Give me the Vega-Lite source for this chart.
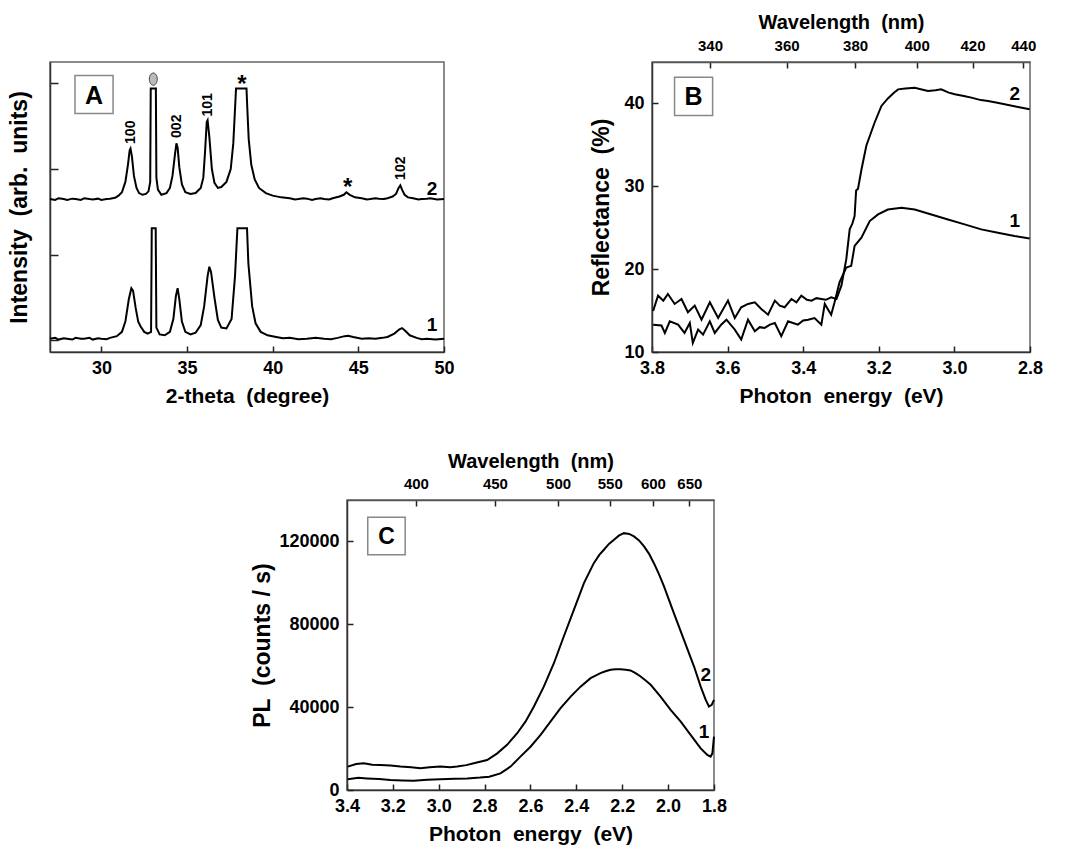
{
  "$schema": "https://vega.github.io/schema/vega-lite/v6.json",
  "padding": {"left": 7, "top": 11, "right": 0, "bottom": 0},
  "config": {
    "font": "Liberation Sans",
    "view": {"stroke": "#666", "strokeWidth": 1.5},
    "axis": {"labelFont": "Liberation Sans", "titleFont": "Liberation Sans", "labelFontWeight": "bold", "titleFontWeight": "bold", "labelColor": "black", "titleColor": "black", "domain": true, "domainColor": "#333", "domainWidth": 1.5, "grid": false, "tickColor": "#222", "tickWidth": 1.5, "labelFontSize": 18, "titleFontSize": 21, "tickSize": -6, "labelFlush": false, "labelOverlap": false},
    "axisBottom": {"labelPadding": 13, "titlePadding": 8},
    "axisTop": {"labelPadding": 15, "titlePadding": 6, "domainColor": "#555"},
    "axisLeft": {"labelPadding": 14, "titlePadding": 10}
  },
  "datasets": {
    "xrd": [
      {"x":27.0,"y":1.65,"s":"2"},{"x":27.3,"y":1.64,"s":"2"},{"x":27.5,"y":1.66,"s":"2"},{"x":27.8,"y":1.65,"s":"2"},{"x":28.0,"y":1.64,"s":"2"},{"x":28.3,"y":1.655,"s":"2"},{"x":28.5,"y":1.65,"s":"2"},{"x":28.8,"y":1.64,"s":"2"},{"x":29.0,"y":1.66,"s":"2"},{"x":29.3,"y":1.65,"s":"2"},{"x":29.5,"y":1.645,"s":"2"},{"x":29.8,"y":1.655,"s":"2"},{"x":30.0,"y":1.64,"s":"2"},{"x":30.3,"y":1.65,"s":"2"},{"x":30.5,"y":1.655,"s":"2"},{"x":30.8,"y":1.665,"s":"2"},{"x":31.0,"y":1.69,"s":"2"},{"x":31.2,"y":1.73,"s":"2"},{"x":31.4,"y":1.85,"s":"2"},{"x":31.55,"y":2.05,"s":"2"},{"x":31.65,"y":2.22,"s":"2"},{"x":31.7,"y":2.24,"s":"2"},{"x":31.78,"y":2.15,"s":"2"},{"x":31.9,"y":1.92,"s":"2"},{"x":32.05,"y":1.78,"s":"2"},{"x":32.2,"y":1.72,"s":"2"},{"x":32.4,"y":1.70,"s":"2"},{"x":32.6,"y":1.71,"s":"2"},{"x":32.75,"y":1.74,"s":"2"},{"x":32.85,"y":1.85,"s":"2"},{"x":32.88,"y":2.94,"s":"2"},{"x":33.18,"y":2.94,"s":"2"},{"x":33.21,"y":1.9,"s":"2"},{"x":33.3,"y":1.76,"s":"2"},{"x":33.5,"y":1.70,"s":"2"},{"x":33.8,"y":1.72,"s":"2"},{"x":34.0,"y":1.78,"s":"2"},{"x":34.15,"y":1.92,"s":"2"},{"x":34.3,"y":2.18,"s":"2"},{"x":34.38,"y":2.30,"s":"2"},{"x":34.45,"y":2.25,"s":"2"},{"x":34.55,"y":2.02,"s":"2"},{"x":34.7,"y":1.82,"s":"2"},{"x":34.9,"y":1.73,"s":"2"},{"x":35.2,"y":1.71,"s":"2"},{"x":35.5,"y":1.72,"s":"2"},{"x":35.8,"y":1.78,"s":"2"},{"x":35.95,"y":1.90,"s":"2"},{"x":36.05,"y":2.2,"s":"2"},{"x":36.15,"y":2.55,"s":"2"},{"x":36.2,"y":2.57,"s":"2"},{"x":36.3,"y":2.38,"s":"2"},{"x":36.45,"y":2.0,"s":"2"},{"x":36.6,"y":1.84,"s":"2"},{"x":36.8,"y":1.78,"s":"2"},{"x":37.0,"y":1.79,"s":"2"},{"x":37.3,"y":1.85,"s":"2"},{"x":37.55,"y":2.0,"s":"2"},{"x":37.7,"y":2.3,"s":"2"},{"x":37.8,"y":2.7,"s":"2"},{"x":37.86,"y":2.94,"s":"2"},{"x":38.47,"y":2.94,"s":"2"},{"x":38.52,"y":2.7,"s":"2"},{"x":38.6,"y":2.35,"s":"2"},{"x":38.75,"y":2.05,"s":"2"},{"x":38.95,"y":1.88,"s":"2"},{"x":39.2,"y":1.78,"s":"2"},{"x":39.6,"y":1.72,"s":"2"},{"x":40.0,"y":1.69,"s":"2"},{"x":40.5,"y":1.67,"s":"2"},{"x":41.0,"y":1.66,"s":"2"},{"x":41.3,"y":1.645,"s":"2"},{"x":41.5,"y":1.65,"s":"2"},{"x":41.8,"y":1.66,"s":"2"},{"x":42.0,"y":1.655,"s":"2"},{"x":42.3,"y":1.64,"s":"2"},{"x":42.5,"y":1.65,"s":"2"},{"x":42.8,"y":1.66,"s":"2"},{"x":43.0,"y":1.65,"s":"2"},{"x":43.3,"y":1.645,"s":"2"},{"x":43.5,"y":1.66,"s":"2"},{"x":43.9,"y":1.68,"s":"2"},{"x":44.15,"y":1.70,"s":"2"},{"x":44.3,"y":1.73,"s":"2"},{"x":44.5,"y":1.70,"s":"2"},{"x":44.8,"y":1.67,"s":"2"},{"x":45.2,"y":1.66,"s":"2"},{"x":45.5,"y":1.645,"s":"2"},{"x":45.7,"y":1.65,"s":"2"},{"x":46.0,"y":1.66,"s":"2"},{"x":46.2,"y":1.655,"s":"2"},{"x":46.5,"y":1.65,"s":"2"},{"x":46.7,"y":1.66,"s":"2"},{"x":47.0,"y":1.68,"s":"2"},{"x":47.2,"y":1.71,"s":"2"},{"x":47.35,"y":1.78,"s":"2"},{"x":47.45,"y":1.81,"s":"2"},{"x":47.55,"y":1.76,"s":"2"},{"x":47.7,"y":1.70,"s":"2"},{"x":47.9,"y":1.67,"s":"2"},{"x":48.2,"y":1.66,"s":"2"},{"x":48.5,"y":1.645,"s":"2"},{"x":48.7,"y":1.65,"s":"2"},{"x":49.0,"y":1.655,"s":"2"},{"x":49.2,"y":1.66,"s":"2"},{"x":49.6,"y":1.645,"s":"2"},{"x":50.0,"y":1.65,"s":"2"},
      {"x":27.0,"y":0.02,"s":"1"},{"x":27.3,"y":0.03,"s":"1"},{"x":27.5,"y":0.01,"s":"1"},{"x":27.8,"y":0.025,"s":"1"},{"x":28.0,"y":0.02,"s":"1"},{"x":28.3,"y":0.01,"s":"1"},{"x":28.5,"y":0.03,"s":"1"},{"x":28.8,"y":0.02,"s":"1"},{"x":29.0,"y":0.02,"s":"1"},{"x":29.3,"y":0.03,"s":"1"},{"x":29.5,"y":0.01,"s":"1"},{"x":29.8,"y":0.025,"s":"1"},{"x":30.0,"y":0.02,"s":"1"},{"x":30.3,"y":0.015,"s":"1"},{"x":30.5,"y":0.03,"s":"1"},{"x":30.9,"y":0.05,"s":"1"},{"x":31.2,"y":0.1,"s":"1"},{"x":31.4,"y":0.22,"s":"1"},{"x":31.6,"y":0.48,"s":"1"},{"x":31.75,"y":0.61,"s":"1"},{"x":31.85,"y":0.58,"s":"1"},{"x":32.0,"y":0.38,"s":"1"},{"x":32.15,"y":0.22,"s":"1"},{"x":32.3,"y":0.16,"s":"1"},{"x":32.5,"y":0.1,"s":"1"},{"x":32.7,"y":0.08,"s":"1"},{"x":32.9,"y":0.1,"s":"1"},{"x":32.94,"y":1.31,"s":"1"},{"x":33.17,"y":1.31,"s":"1"},{"x":33.21,"y":0.15,"s":"1"},{"x":33.4,"y":0.07,"s":"1"},{"x":33.7,"y":0.06,"s":"1"},{"x":34.0,"y":0.1,"s":"1"},{"x":34.2,"y":0.25,"s":"1"},{"x":34.35,"y":0.52,"s":"1"},{"x":34.45,"y":0.61,"s":"1"},{"x":34.55,"y":0.48,"s":"1"},{"x":34.7,"y":0.22,"s":"1"},{"x":34.9,"y":0.1,"s":"1"},{"x":35.2,"y":0.07,"s":"1"},{"x":35.5,"y":0.09,"s":"1"},{"x":35.8,"y":0.18,"s":"1"},{"x":36.0,"y":0.4,"s":"1"},{"x":36.2,"y":0.75,"s":"1"},{"x":36.3,"y":0.86,"s":"1"},{"x":36.4,"y":0.8,"s":"1"},{"x":36.6,"y":0.5,"s":"1"},{"x":36.8,"y":0.24,"s":"1"},{"x":37.0,"y":0.15,"s":"1"},{"x":37.3,"y":0.14,"s":"1"},{"x":37.6,"y":0.25,"s":"1"},{"x":37.8,"y":0.75,"s":"1"},{"x":37.94,"y":1.31,"s":"1"},{"x":38.5,"y":1.31,"s":"1"},{"x":38.58,"y":0.9,"s":"1"},{"x":38.8,"y":0.4,"s":"1"},{"x":39.0,"y":0.2,"s":"1"},{"x":39.3,"y":0.1,"s":"1"},{"x":39.7,"y":0.06,"s":"1"},{"x":40.2,"y":0.04,"s":"1"},{"x":40.6,"y":0.025,"s":"1"},{"x":41.0,"y":0.03,"s":"1"},{"x":41.5,"y":0.015,"s":"1"},{"x":42.0,"y":0.02,"s":"1"},{"x":42.5,"y":0.03,"s":"1"},{"x":43.0,"y":0.02,"s":"1"},{"x":43.4,"y":0.015,"s":"1"},{"x":43.8,"y":0.03,"s":"1"},{"x":44.2,"y":0.05,"s":"1"},{"x":44.4,"y":0.055,"s":"1"},{"x":44.7,"y":0.04,"s":"1"},{"x":45.2,"y":0.02,"s":"1"},{"x":45.6,"y":0.025,"s":"1"},{"x":46.0,"y":0.02,"s":"1"},{"x":46.4,"y":0.03,"s":"1"},{"x":46.7,"y":0.04,"s":"1"},{"x":47.1,"y":0.08,"s":"1"},{"x":47.4,"y":0.13,"s":"1"},{"x":47.55,"y":0.144,"s":"1"},{"x":47.75,"y":0.11,"s":"1"},{"x":48.0,"y":0.06,"s":"1"},{"x":48.4,"y":0.03,"s":"1"},{"x":48.7,"y":0.015,"s":"1"},{"x":49.0,"y":0.02,"s":"1"},{"x":49.5,"y":0.01,"s":"1"},{"x":50.0,"y":0.02,"s":"1"}
    ],
    "xrdPeaks": [
      {"x":31.75,"y":2.43,"t":"100"},{"x":34.4,"y":2.5,"t":"002"},{"x":36.2,"y":2.75,"t":"101"},{"x":47.5,"y":2.01,"t":"102"}
    ],
    "xrdStars": [
      {"x":38.2,"y":2.98,"t":"*"},{"x":44.37,"y":1.78,"t":"*"}
    ],
    "xrdCurves": [
      {"x":49.3,"y":1.77,"t":"2"},{"x":49.3,"y":0.18,"t":"1"}
    ],
    "refl": [
      {"E":3.797,"R":14.95,"s":"2"},{"E":3.784,"R":16.8,"s":"2"},{"E":3.770,"R":16.2,"s":"2"},{"E":3.758,"R":17.0,"s":"2"},{"E":3.740,"R":15.8,"s":"2"},{"E":3.722,"R":16.4,"s":"2"},{"E":3.705,"R":14.8,"s":"2"},{"E":3.687,"R":15.6,"s":"2"},{"E":3.669,"R":13.9,"s":"2"},{"E":3.647,"R":16.0,"s":"2"},{"E":3.625,"R":14.1,"s":"2"},{"E":3.599,"R":16.2,"s":"2"},{"E":3.581,"R":14.1,"s":"2"},{"E":3.564,"R":15.4,"s":"2"},{"E":3.546,"R":15.8,"s":"2"},{"E":3.528,"R":16.0,"s":"2"},{"E":3.511,"R":15.2,"s":"2"},{"E":3.493,"R":14.5,"s":"2"},{"E":3.475,"R":16.2,"s":"2"},{"E":3.462,"R":15.6,"s":"2"},{"E":3.449,"R":15.4,"s":"2"},{"E":3.431,"R":16.4,"s":"2"},{"E":3.418,"R":16.0,"s":"2"},{"E":3.405,"R":16.8,"s":"2"},{"E":3.390,"R":16.3,"s":"2"},{"E":3.378,"R":16.2,"s":"2"},{"E":3.365,"R":16.5,"s":"2"},{"E":3.352,"R":16.4,"s":"2"},{"E":3.340,"R":16.3,"s":"2"},{"E":3.326,"R":16.6,"s":"2"},{"E":3.312,"R":16.4,"s":"2"},{"E":3.299,"R":18.0,"s":"2"},{"E":3.286,"R":21.2,"s":"2"},{"E":3.277,"R":24.8,"s":"2"},{"E":3.270,"R":25.5,"s":"2"},{"E":3.264,"R":26.4,"s":"2"},{"E":3.260,"R":29.5,"s":"2"},{"E":3.255,"R":29.7,"s":"2"},{"E":3.246,"R":32.0,"s":"2"},{"E":3.233,"R":34.9,"s":"2"},{"E":3.211,"R":37.7,"s":"2"},{"E":3.193,"R":39.7,"s":"2"},{"E":3.176,"R":40.6,"s":"2"},{"E":3.160,"R":41.3,"s":"2"},{"E":3.149,"R":41.7,"s":"2"},{"E":3.130,"R":41.8,"s":"2"},{"E":3.105,"R":41.9,"s":"2"},{"E":3.070,"R":41.5,"s":"2"},{"E":3.050,"R":41.6,"s":"2"},{"E":3.035,"R":41.7,"s":"2"},{"E":3.015,"R":41.3,"s":"2"},{"E":2.999,"R":41.1,"s":"2"},{"E":2.975,"R":40.9,"s":"2"},{"E":2.955,"R":40.7,"s":"2"},{"E":2.930,"R":40.4,"s":"2"},{"E":2.911,"R":40.3,"s":"2"},{"E":2.890,"R":40.1,"s":"2"},{"E":2.867,"R":39.9,"s":"2"},{"E":2.835,"R":39.6,"s":"2"},{"E":2.801,"R":39.3,"s":"2"},
      {"E":3.797,"R":13.3,"s":"1"},{"E":3.775,"R":13.2,"s":"1"},{"E":3.766,"R":12.3,"s":"1"},{"E":3.753,"R":13.7,"s":"1"},{"E":3.731,"R":13.3,"s":"1"},{"E":3.714,"R":12.3,"s":"1"},{"E":3.700,"R":13.5,"s":"1"},{"E":3.692,"R":11.1,"s":"1"},{"E":3.678,"R":12.7,"s":"1"},{"E":3.665,"R":12.1,"s":"1"},{"E":3.647,"R":13.7,"s":"1"},{"E":3.634,"R":12.3,"s":"1"},{"E":3.617,"R":13.3,"s":"1"},{"E":3.603,"R":13.9,"s":"1"},{"E":3.581,"R":12.7,"s":"1"},{"E":3.564,"R":11.5,"s":"1"},{"E":3.546,"R":13.9,"s":"1"},{"E":3.528,"R":12.5,"s":"1"},{"E":3.515,"R":13.0,"s":"1"},{"E":3.502,"R":12.9,"s":"1"},{"E":3.488,"R":13.3,"s":"1"},{"E":3.475,"R":13.5,"s":"1"},{"E":3.458,"R":11.9,"s":"1"},{"E":3.440,"R":13.7,"s":"1"},{"E":3.427,"R":13.5,"s":"1"},{"E":3.414,"R":13.3,"s":"1"},{"E":3.400,"R":13.8,"s":"1"},{"E":3.387,"R":13.9,"s":"1"},{"E":3.370,"R":14.1,"s":"1"},{"E":3.352,"R":13.3,"s":"1"},{"E":3.343,"R":15.8,"s":"1"},{"E":3.326,"R":14.5,"s":"1"},{"E":3.317,"R":16.0,"s":"1"},{"E":3.304,"R":18.4,"s":"1"},{"E":3.286,"R":20.2,"s":"1"},{"E":3.273,"R":20.4,"s":"1"},{"E":3.264,"R":22.8,"s":"1"},{"E":3.246,"R":23.8,"s":"1"},{"E":3.224,"R":25.8,"s":"1"},{"E":3.202,"R":26.6,"s":"1"},{"E":3.176,"R":27.2,"s":"1"},{"E":3.140,"R":27.4,"s":"1"},{"E":3.105,"R":27.2,"s":"1"},{"E":3.061,"R":26.6,"s":"1"},{"E":3.017,"R":26.0,"s":"1"},{"E":2.973,"R":25.4,"s":"1"},{"E":2.929,"R":24.8,"s":"1"},{"E":2.885,"R":24.4,"s":"1"},{"E":2.841,"R":24.0,"s":"1"},{"E":2.801,"R":23.7,"s":"1"}
    ],
    "reflLabels": [{"E":2.84,"R":41.1,"t":"2"},{"E":2.84,"R":25.8,"t":"1"}],
    "pl": [
      {"E":3.397,"P":11300,"s":"2"},{"E":3.360,"P":12500,"s":"2"},{"E":3.327,"P":12900,"s":"2"},{"E":3.290,"P":12200,"s":"2"},{"E":3.255,"P":12100,"s":"2"},{"E":3.210,"P":11800,"s":"2"},{"E":3.167,"P":11300,"s":"2"},{"E":3.120,"P":11000,"s":"2"},{"E":3.080,"P":10500,"s":"2"},{"E":3.040,"P":11000,"s":"2"},{"E":2.993,"P":11300,"s":"2"},{"E":2.950,"P":11000,"s":"2"},{"E":2.920,"P":11300,"s":"2"},{"E":2.880,"P":12000,"s":"2"},{"E":2.847,"P":12900,"s":"2"},{"E":2.789,"P":14500,"s":"2"},{"E":2.745,"P":17700,"s":"2"},{"E":2.702,"P":21800,"s":"2"},{"E":2.658,"P":27400,"s":"2"},{"E":2.622,"P":33000,"s":"2"},{"E":2.585,"P":40300,"s":"2"},{"E":2.542,"P":49900,"s":"2"},{"E":2.498,"P":61200,"s":"2"},{"E":2.455,"P":74100,"s":"2"},{"E":2.411,"P":87000,"s":"2"},{"E":2.367,"P":99900,"s":"2"},{"E":2.324,"P":109500,"s":"2"},{"E":2.300,"P":113500,"s":"2"},{"E":2.280,"P":116000,"s":"2"},{"E":2.258,"P":118800,"s":"2"},{"E":2.236,"P":120800,"s":"2"},{"E":2.215,"P":122800,"s":"2"},{"E":2.193,"P":124000,"s":"2"},{"E":2.170,"P":123600,"s":"2"},{"E":2.149,"P":122400,"s":"2"},{"E":2.127,"P":120500,"s":"2"},{"E":2.105,"P":117600,"s":"2"},{"E":2.083,"P":114000,"s":"2"},{"E":2.062,"P":109500,"s":"2"},{"E":2.040,"P":104200,"s":"2"},{"E":2.018,"P":98300,"s":"2"},{"E":1.975,"P":85400,"s":"2"},{"E":1.931,"P":72500,"s":"2"},{"E":1.887,"P":59600,"s":"2"},{"E":1.858,"P":49900,"s":"2"},{"E":1.836,"P":43500,"s":"2"},{"E":1.822,"P":40300,"s":"2"},{"E":1.810,"P":41100,"s":"2"},{"E":1.800,"P":43500,"s":"2"},
      {"E":3.397,"P":5200,"s":"1"},{"E":3.350,"P":5900,"s":"1"},{"E":3.313,"P":5600,"s":"1"},{"E":3.260,"P":5300,"s":"1"},{"E":3.211,"P":4800,"s":"1"},{"E":3.160,"P":4600,"s":"1"},{"E":3.109,"P":4500,"s":"1"},{"E":3.050,"P":4900,"s":"1"},{"E":2.993,"P":5200,"s":"1"},{"E":2.930,"P":5400,"s":"1"},{"E":2.876,"P":5600,"s":"1"},{"E":2.820,"P":6000,"s":"1"},{"E":2.780,"P":6400,"s":"1"},{"E":2.731,"P":8000,"s":"1"},{"E":2.687,"P":11300,"s":"1"},{"E":2.644,"P":16100,"s":"1"},{"E":2.600,"P":20900,"s":"1"},{"E":2.556,"P":26600,"s":"1"},{"E":2.513,"P":33000,"s":"1"},{"E":2.469,"P":39500,"s":"1"},{"E":2.425,"P":45100,"s":"1"},{"E":2.382,"P":49900,"s":"1"},{"E":2.338,"P":54000,"s":"1"},{"E":2.295,"P":56400,"s":"1"},{"E":2.273,"P":57300,"s":"1"},{"E":2.251,"P":58000,"s":"1"},{"E":2.229,"P":58300,"s":"1"},{"E":2.207,"P":58300,"s":"1"},{"E":2.185,"P":58100,"s":"1"},{"E":2.164,"P":57700,"s":"1"},{"E":2.142,"P":56400,"s":"1"},{"E":2.120,"P":54800,"s":"1"},{"E":2.098,"P":52900,"s":"1"},{"E":2.076,"P":50800,"s":"1"},{"E":2.033,"P":45100,"s":"1"},{"E":1.989,"P":38700,"s":"1"},{"E":1.945,"P":33000,"s":"1"},{"E":1.902,"P":26600,"s":"1"},{"E":1.858,"P":20100,"s":"1"},{"E":1.829,"P":16900,"s":"1"},{"E":1.815,"P":16100,"s":"1"},{"E":1.807,"P":17700,"s":"1"},{"E":1.800,"P":25800,"s":"1"}
    ],
    "plLabels": [{"E":1.836,"P":55600,"t":"2"},{"E":1.844,"P":28200,"t":"1"}]
  },
  "vconcat": [
    {
      "hconcat": [
        {
          "width": 394, "height": 290,
          "layer": [
            {
              "data": {"name": "xrd"},
              "mark": {"type": "line", "color": "black", "strokeWidth": 2},
              "encoding": {
                "x": {"field": "x", "type": "quantitative", "scale": {"domain": [27, 50], "nice": false, "zero": false}, "axis": {"values": [30, 35, 40, 45, 50], "title": "2-theta \u00a0(degree)"}},
                "y": {"field": "y", "type": "quantitative", "scale": {"domain": [-0.135, 3.25], "nice": false, "zero": false}, "axis": {"values": [0, 1, 2, 3], "labels": false, "title": "Intensity \u00a0(arb. \u00a0units)", "titleFontSize": 23, "tickSize": -8, "titlePadding": 18}},
                "detail": {"field": "s", "type": "nominal"}
              }
            },
            {
              "data": {"name": "xrdPeaks"},
              "mark": {"type": "text", "angle": 270, "fontSize": 14, "fontWeight": "bold", "align": "center", "baseline": "middle"},
              "encoding": {"x": {"field": "x", "type": "quantitative"}, "y": {"field": "y", "type": "quantitative"}, "text": {"field": "t"}}
            },
            {
              "data": {"name": "xrdStars"},
              "mark": {"type": "text", "fontSize": 24, "fontWeight": "bold", "align": "center", "baseline": "middle"},
              "encoding": {"x": {"field": "x", "type": "quantitative"}, "y": {"field": "y", "type": "quantitative"}, "text": {"field": "t"}}
            },
            {
              "data": {"name": "xrdCurves"},
              "mark": {"type": "text", "fontSize": 19, "fontWeight": "bold", "align": "center", "baseline": "middle"},
              "encoding": {"x": {"field": "x", "type": "quantitative"}, "y": {"field": "y", "type": "quantitative"}, "text": {"field": "t"}}
            },
            {
              "data": {"values": [{"x": 29.57, "y": 2.87}]},
              "mark": {"type": "point", "shape": "square", "size": 1450, "filled": false, "stroke": "#888", "strokeWidth": 1.5, "opacity": 1},
              "encoding": {"x": {"field": "x", "type": "quantitative"}, "y": {"field": "y", "type": "quantitative"}}
            },
            {
              "data": {"values": [{"x": 29.57, "y": 2.87, "t": "A"}]},
              "mark": {"type": "text", "fontSize": 25, "fontWeight": "bold", "align": "center", "baseline": "middle", "dy": 1},
              "encoding": {"x": {"field": "x", "type": "quantitative"}, "y": {"field": "y", "type": "quantitative"}, "text": {"field": "t"}}
            },
            {
              "data": {"values": [{"x": 33.03, "y": 3.05}]},
              "mark": {"type": "point", "shape": "M0,-1 A0.65,1 0 1,1 0,1 A0.65,1 0 1,1 0,-1 Z", "size": 150, "filled": true, "fill": "#bbb", "stroke": "#444", "strokeWidth": 1, "opacity": 1},
              "encoding": {"x": {"field": "x", "type": "quantitative"}, "y": {"field": "y", "type": "quantitative"}}
            }
          ]
        },
        {
          "width": 378, "height": 290,
          "layer": [
            {
              "data": {"name": "refl"},
              "mark": {"type": "line", "color": "black", "strokeWidth": 2},
              "encoding": {
                "x": {"field": "E", "type": "quantitative", "scale": {"domain": [2.8, 3.8], "reverse": true, "nice": false, "zero": false}, "axis": {"values": [3.8, 3.6, 3.4, 3.2, 3.0, 2.8], "format": ".1f", "title": "Photon \u00a0energy \u00a0(eV)"}},
                "y": {"field": "R", "type": "quantitative", "scale": {"domain": [10, 45], "nice": false, "zero": false}, "axis": {"values": [10, 20, 30, 40], "title": "Reflectance \u00a0(%)", "titleFontSize": 23}},
                "detail": {"field": "s", "type": "nominal"}
              }
            },
            {
              "data": {"values": [{"E": 3.6466}, {"E": 3.444}, {"E": 3.2627}, {"E": 3.0996}, {"E": 2.952}, {"E": 2.8178}]},
              "mark": {"type": "point", "opacity": 0},
              "encoding": {
                "x": {"field": "E", "type": "quantitative", "scale": {"domain": [2.8, 3.8], "reverse": true, "nice": false, "zero": false}, "axis": {"orient": "top", "values": [3.6466, 3.444, 3.2627, 3.0996, 2.952, 2.8178], "labelExpr": "format(1239.84 / datum.value, '.0f')", "title": "Wavelength \u00a0(nm)", "labelFontSize": 15, "titleFontSize": 20}}
              }
            },
            {
              "data": {"name": "reflLabels"},
              "mark": {"type": "text", "fontSize": 19, "fontWeight": "bold", "align": "center", "baseline": "middle"},
              "encoding": {"x": {"field": "E", "type": "quantitative", "axis": null}, "y": {"field": "R", "type": "quantitative"}, "text": {"field": "t"}}
            },
            {
              "data": {"values": [{"E": 3.69, "R": 40.85}]},
              "mark": {"type": "point", "shape": "square", "size": 1450, "filled": false, "stroke": "#888", "strokeWidth": 1.5, "opacity": 1},
              "encoding": {"x": {"field": "E", "type": "quantitative", "axis": null}, "y": {"field": "R", "type": "quantitative"}}
            },
            {
              "data": {"values": [{"E": 3.69, "R": 40.85, "t": "B"}]},
              "mark": {"type": "text", "fontSize": 25, "fontWeight": "bold", "align": "center", "baseline": "middle", "dy": 1},
              "encoding": {"x": {"field": "E", "type": "quantitative", "axis": null}, "y": {"field": "R", "type": "quantitative"}, "text": {"field": "t"}}
            }
          ],
          "resolve": {"axis": {"x": "independent"}}
        }
      ],
      "spacing": 135
    },
    {
      "hconcat": [
        {
          "width": 201, "height": 10,
          "view": {"stroke": null},
          "data": {"values": [{"a": 1}]},
          "mark": {"type": "point", "opacity": 0}
        },
        {
          "width": 367, "height": 290,
          "layer": [
            {
              "data": {"name": "pl"},
              "mark": {"type": "line", "color": "black", "strokeWidth": 2},
              "encoding": {
                "x": {"field": "E", "type": "quantitative", "scale": {"domain": [1.8, 3.4], "reverse": true, "nice": false, "zero": false}, "axis": {"values": [3.4, 3.2, 3.0, 2.8, 2.6, 2.4, 2.2, 2.0, 1.8], "format": ".1f", "title": "Photon \u00a0energy \u00a0(eV)"}},
                "y": {"field": "P", "type": "quantitative", "scale": {"domain": [0, 140000], "nice": false, "zero": false}, "axis": {"values": [0, 40000, 80000, 120000], "format": "d", "title": "PL \u00a0(counts / s)", "titleFontSize": 23, "titlePadding": 4}},
                "detail": {"field": "s", "type": "nominal"}
              }
            },
            {
              "data": {"values": [{"E": 3.0996}, {"E": 2.7552}, {"E": 2.4797}, {"E": 2.2543}, {"E": 2.0664}, {"E": 1.9074}]},
              "mark": {"type": "point", "opacity": 0},
              "encoding": {
                "x": {"field": "E", "type": "quantitative", "scale": {"domain": [1.8, 3.4], "reverse": true, "nice": false, "zero": false}, "axis": {"orient": "top", "values": [3.0996, 2.7552, 2.4797, 2.2543, 2.0664, 1.9074], "labelExpr": "format(1239.84 / datum.value, '.0f')", "title": "Wavelength \u00a0(nm)", "labelFontSize": 15, "titleFontSize": 20, "titlePadding": 5}}
              }
            },
            {
              "data": {"name": "plLabels"},
              "mark": {"type": "text", "fontSize": 19, "fontWeight": "bold", "align": "center", "baseline": "middle"},
              "encoding": {"x": {"field": "E", "type": "quantitative", "axis": null}, "y": {"field": "P", "type": "quantitative"}, "text": {"field": "t"}}
            },
            {
              "data": {"values": [{"E": 3.228, "P": 122600}]},
              "mark": {"type": "point", "shape": "square", "size": 1400, "filled": false, "stroke": "#888", "strokeWidth": 1.5, "opacity": 1},
              "encoding": {"x": {"field": "E", "type": "quantitative", "axis": null}, "y": {"field": "P", "type": "quantitative"}}
            },
            {
              "data": {"values": [{"E": 3.228, "P": 122600, "t": "C"}]},
              "mark": {"type": "text", "fontSize": 23, "fontWeight": "bold", "align": "center", "baseline": "middle", "dy": 1},
              "encoding": {"x": {"field": "E", "type": "quantitative", "axis": null}, "y": {"field": "P", "type": "quantitative"}, "text": {"field": "t"}}
            }
          ],
          "resolve": {"axis": {"x": "independent"}}
        }
      ],
      "spacing": 0
    }
  ],
  "spacing": 43
}
